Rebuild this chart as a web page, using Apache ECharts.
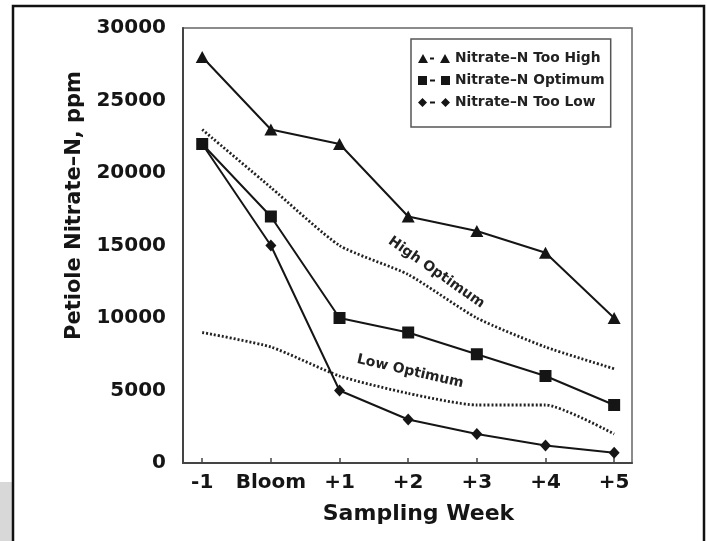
<!DOCTYPE html>
<html>
<head>
<meta charset="utf-8">
<script src="https://cdn.jsdelivr.net/npm/echarts@6/dist/echarts.min.js"></script>
<style>
html,body{margin:0;padding:0;background:#fff;}
#chart{width:707px;height:541px;}
</style>
</head>
<body>
<div id="chart"></div>
<script>
// ---- data ----
const weeks = ['-1', 'Bloom', '+1', '+2', '+3', '+4', '+5'];
const tooHigh = [28000, 23000, 22000, 17000, 16000, 14500, 10000];
const optimum = [22000, 17000, 10000, 9000, 7500, 6000, 4000];
const tooLow = [22000, 15000, 5000, 3000, 2000, 1200, 700];
const highOptimum = [23000, 19000, 15000, 13000, 10000, 8000, 6500];
const lowOptimum = [9000, 8000, 6000, 4800, 4000, 4000, 2000];
const seriesNames = ['Nitrate–N Too High', 'Nitrate–N Optimum', 'Nitrate–N Too Low'];
const bandLabels = ['High Optimum', 'Low Optimum'];

const FONT = 'DejaVu Sans';
const INK = '#151515';
const pairs = arr => arr.map((v, i) => [i, v]);
const weekIdx = weeks.map((w, i) => i);

const chart = echarts.init(document.getElementById('chart'), null, {renderer: 'canvas'});

const markerLine = (name, data, symbol, size) => ({
  name: name,
  type: 'line',
  data: pairs(data),
  symbol: symbol,
  symbolSize: size,
  showSymbol: true,
  itemStyle: {color: INK},
  lineStyle: {color: INK, width: 2},
  z: 5
});

const dottedLine = (data, label, coord, rot) => ({
  name: label,
  type: 'line',
  data: pairs(data),
  symbol: 'none',
  smooth: 0.2,
  lineStyle: {color: '#222', width: 2.8, type: [2, 2]},
  silent: true,
  z: 3,
  markPoint: {
    symbol: 'circle',
    symbolSize: 0,
    silent: true,
    data: [{coord: coord}],
    label: {
      show: true,
      position: 'inside',
      formatter: label,
      rotate: rot,
      fontFamily: FONT,
      fontWeight: 'bold',
      fontSize: 14,
      color: '#222'
    }
  }
});

const option = {
  backgroundColor: '#fff',
  animation: false,
  graphic: [
    {type: 'rect', z: -10, shape: {x: 0, y: 482, width: 12, height: 59}, style: {fill: '#d8d8d8'}},
    {type: 'rect', z: -5, shape: {x: 13, y: 6, width: 691, height: 600}, style: {fill: 'none', stroke: '#111', lineWidth: 2.5}}
  ],
  grid: {
    left: 183, top: 28, right: 75, bottom: 78,
    show: true, borderColor: '#666', borderWidth: 1.5, backgroundColor: 'transparent'
  },
  legend: {
    data: seriesNames.map((n, i) => ({
      name: n,
      icon: [
        'path://M0,9 L5,0 L10,9 Z M12,3.5 L16,3.5 L16,5.5 L12,5.5 Z M22,9 L27,0 L32,9 Z',
        'path://M0,0 L9,0 L9,9 L0,9 Z M12,3.5 L17,3.5 L17,5.5 L12,5.5 Z M23,0 L32,0 L32,9 L23,9 Z',
        'path://M4.5,0 L9,4.5 L4.5,9 L0,4.5 Z M12,3.5 L17,3.5 L17,5.5 L12,5.5 Z M27.5,0 L32,4.5 L27.5,9 L23,4.5 Z'
      ][i]
    })),
    orient: 'vertical',
    left: 411, top: 39,
    padding: [12, 6, 17, 7],
    itemWidth: 32, itemHeight: 9,
    itemGap: 7,
    borderColor: '#555', borderWidth: 1.5,
    backgroundColor: '#fff',
    textStyle: {fontFamily: FONT, fontWeight: 'bold', fontSize: 13.8, lineHeight: 15, color: '#222'},
    selectedMode: false
  },
  xAxis: {
    type: 'value',
    min: -0.28, max: 6.26,
    name: 'Sampling Week',
    nameLocation: 'middle',
    nameGap: 40,
    nameTextStyle: {fontFamily: FONT, fontWeight: 'bold', fontSize: 22, color: INK, padding: [0, 0, 0, 22]},
    axisLine: {show: true, onZero: false, lineStyle: {color: '#444', width: 2}},
    axisTick: {show: true, inside: true, length: 5, customValues: weekIdx, lineStyle: {color: '#444', width: 1.5}},
    axisLabel: {
      customValues: weekIdx,
      formatter: v => weeks[Math.round(v)],
      margin: 10,
      fontFamily: FONT, fontWeight: 'bold', fontSize: 20, color: INK
    },
    splitLine: {show: false}
  },
  yAxis: {
    type: 'value',
    min: 0, max: 30000, interval: 5000,
    name: 'Petiole Nitrate–N, ppm',
    nameLocation: 'middle',
    nameGap: 98,
    nameTextStyle: {fontFamily: FONT, fontWeight: 'bold', fontSize: 21, color: INK, padding: [0, 0, 0, 80]},
    axisLine: {show: true, onZero: false, lineStyle: {color: '#444', width: 2}},
    axisTick: {show: false},
    axisLabel: {
      margin: 17,
      formatter: v => String(v),
      fontFamily: FONT, fontWeight: 'bold', fontSize: 20, color: INK
    },
    splitLine: {show: false}
  },
  series: [
    dottedLine(highOptimum, bandLabels[0], [3.41, 13140], -35),
    dottedLine(lowOptimum, bandLabels[1], [3.03, 6310], -13),
    markerLine(seriesNames[0], tooHigh, 'triangle', [13, 12]),
    markerLine(seriesNames[1], optimum, 'rect', 12),
    markerLine(seriesNames[2], tooLow, 'diamond', [11, 12])
  ]
};
chart.setOption(option);
</script>
</body>
</html>
